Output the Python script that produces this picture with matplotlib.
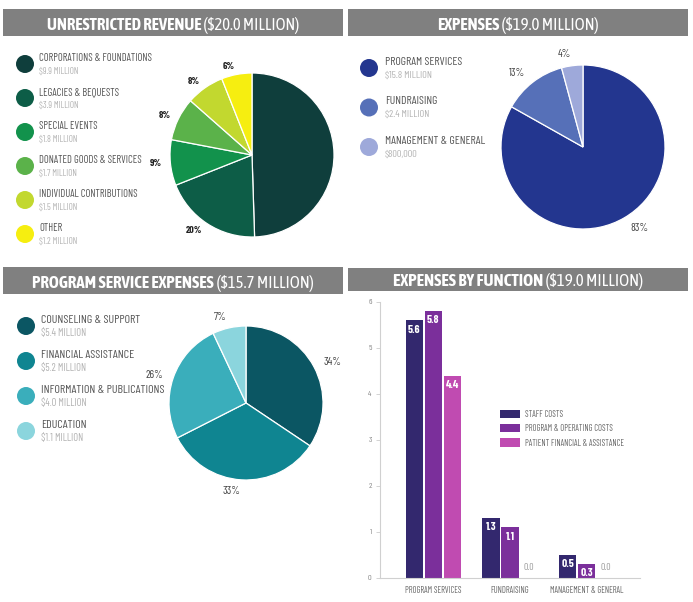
import matplotlib
matplotlib.use("Agg")
import matplotlib.pyplot as plt
import numpy as np
from matplotlib import font_manager
from matplotlib.patches import Rectangle, Circle

# ---------------- data ----------------
rev_labels = ["CORPORATIONS & FOUNDATIONS", "LEGACIES & BEQUESTS", "SPECIAL EVENTS",
              "DONATED GOODS & SERVICES", "INDIVIDUAL CONTRIBUTIONS", "OTHER"]
rev_subs = ["$9.9 MILLION", "$3.9 MILLION", "$1.8 MILLION", "$1.7 MILLION",
            "$1.5 MILLION", "$1.2 MILLION"]
rev_values = [9.9, 3.9, 1.8, 1.7, 1.5, 1.2]
rev_pct = ["", "20%", "9%", "8%", "8%", "6%"]
rev_colors = ["#0f3e3c", "#0d5d47", "#12924c", "#5bb24a", "#c2d82f", "#f6ee10"]

exp_labels = ["PROGRAM SERVICES", "FUNDRAISING", "MANAGEMENT & GENERAL"]
exp_subs = ["$15.8 MILLION", "$2.4 MILLION", "$800,000"]
exp_values = [15.8, 2.4, 0.8]
exp_pct = ["83%", "13%", "4%"]
exp_colors = ["#23368f", "#5670b8", "#9ea9da"]

prog_labels = ["COUNSELING & SUPPORT", "FINANCIAL ASSISTANCE",
               "INFORMATION & PUBLICATIONS", "EDUCATION"]
prog_subs = ["$5.4 MILLION", "$5.2 MILLION", "$4.0 MILLION", "$1.1 MILLION"]
prog_values = [5.4, 5.2, 4.0, 1.1]
prog_pct = ["34%", "33%", "26%", "7%"]
prog_colors = ["#0b5663", "#0f8591", "#3aaebb", "#8bd5dd"]

func_categories = ["PROGRAM SERVICES", "FUNDRAISING", "MANAGEMENT & GENERAL"]
func_series = ["STAFF COSTS", "PROGRAM & OPERATING COSTS", "PATIENT FINANCIAL & ASSISTANCE"]
staff_costs = [5.6, 1.3, 0.5]
program_operating = [5.8, 1.1, 0.3]
patient_financial = [4.4, 0.0, 0.0]
func_colors = ["#33286e", "#7b2f9b", "#c04bb1"]
func_yticks = [0, 1, 2, 3, 4, 5, 6]

# ---------------- fonts ----------------
avail = {f.name for f in font_manager.fontManager.ttflist}


def pick(cands):
    for c in cands:
        if c in avail:
            return c
    return "DejaVu Sans"


BODY = pick(["Barlow Condensed", "PT Sans Narrow", "Roboto Condensed"])
HEAD = pick(["Asap Condensed", "PT Sans Narrow", "Roboto Condensed"])
plt.rcParams["font.family"] = [BODY, "DejaVu Sans"]

W, H = 693, 602
DPI = 100
fig = plt.figure(figsize=(W / DPI, H / DPI), dpi=DPI)
fig.patch.set_facecolor("white")

ov = fig.add_axes([0, 0, 1, 1])
ov.set_xlim(0, W)
ov.set_ylim(H, 0)
ov.axis("off")
ov.set_zorder(0)

HEADER = "#808080"
renderer = fig.canvas.get_renderer()


def fit_size(text, target_w, weight="normal", base=10.0):
    t = ov.text(0, 0, text, fontsize=base, fontweight=weight)
    w = t.get_window_extent(renderer).width
    t.remove()
    return base * target_w / w


def header(x0, x1, y0, y1, bold, rest, target_w):
    ov.add_patch(Rectangle((x0, y0), x1 - x0, y1 - y0, color=HEADER, lw=0))
    cy = (y0 + y1) / 2 + 0.5
    fs = 12.5
    kw = dict(color="white", va="center_baseline", ha="left", family=[HEAD, "DejaVu Sans"])
    t1 = ov.text(0, cy, bold, fontsize=fs, fontweight="bold", **kw)
    t2 = ov.text(0, cy, rest, fontsize=fs, **kw)
    w1 = t1.get_window_extent(renderer).width
    w2 = t2.get_window_extent(renderer).width
    scale = min(1.0, target_w / (w1 + w2))
    if scale < 1.0:
        fs = fs * scale
        t1.set_fontsize(fs)
        t2.set_fontsize(fs)
        w1 = t1.get_window_extent(renderer).width
        w2 = t2.get_window_extent(renderer).width
    start = (x0 + x1) / 2 - (w1 + w2) / 2
    t1.set_x(start)
    t2.set_x(start + w1)


header(3, 343, 9, 36, "UNRESTRICTED REVENUE", " ($20.0 MILLION)", 252)
header(348, 688, 9, 36, "EXPENSES", " ($19.0 MILLION)", 162)
header(3, 343, 267, 294, "PROGRAM SERVICE EXPENSES", " ($15.7 MILLION)", 282)
header(348, 688, 268, 291, "EXPENSES BY FUNCTION", " ($19.0 MILLION)", 250)


def legend_block(cx, tx, y0, step, labels, subs, colors, ref_idx, lab_w, rad=9):
    fs_lab = min(9.5, fit_size(labels[ref_idx], lab_w))
    fs_sub = 0.88 * fs_lab
    for i, (lab, sub, col) in enumerate(zip(labels, subs, colors)):
        y = y0 + i * step
        ov.add_patch(Circle((cx, y + 6), rad, color=col, lw=0))
        ov.text(tx, y, lab, color="#555555", fontsize=fs_lab, va="center", ha="left")
        ov.text(tx, y + 13, sub, color="#b3b3b3", fontsize=fs_sub, va="center", ha="left")


legend_block(25, 39, 58, 34, rev_labels, rev_subs, rev_colors, 0, 113)
legend_block(369, 385, 62, 39.5, exp_labels, exp_subs, exp_colors, 2, 100)
legend_block(26, 41, 320, 35, prog_labels, prog_subs, prog_colors, 2, 124)


def pie_axes(cx, cy, r):
    half = 1.25 * r
    return fig.add_axes([(cx - half) / W, 1 - (cy + half) / H, 2 * half / W, 2 * half / H])


def draw_pie(ax, values, colors, pct, bold, dist):
    ax.pie(values, colors=colors, startangle=90, counterclock=False, labels=pct,
           labeldistance=dist,
           wedgeprops=dict(edgecolor="white", linewidth=0.9),
           textprops=dict(fontsize=7.2 if bold else 8.0,
                          color="#222222" if bold else "#444444",
                          fontweight="bold" if bold else "normal"))
    ax.set_xlim(-1.25, 1.25)
    ax.set_ylim(-1.25, 1.25)
    ax.set_aspect("equal")
    ax.axis("off")


ax1 = pie_axes(252, 155, 82)
draw_pie(ax1, rev_values, rev_colors, rev_pct, True, 1.1)
ax2 = pie_axes(583, 147, 82)
draw_pie(ax2, exp_values, exp_colors, exp_pct, False, 1.15)
ax3 = pie_axes(246, 403, 77)
draw_pie(ax3, prog_values, prog_colors, prog_pct, False, 1.14)

# ---------------- bar chart ----------------
bx0, bx1, by0, by1 = 380, 640, 302, 578
axb = fig.add_axes([bx0 / W, 1 - by1 / H, (bx1 - bx0) / W, (by1 - by0) / H])
x = np.arange(len(func_categories))
off = 0.247
wid = 0.222
series = [staff_costs, program_operating, patient_financial]
for k, (vals, col, name) in enumerate(zip(series, func_colors, func_series)):
    bars = axb.bar(x + (k - 1) * off, vals, width=wid, color=col, label=name, zorder=2)
    for b, v in zip(bars, vals):
        xc = b.get_x() + b.get_width() / 2
        if v > 0:
            axb.annotate(f"{v:.1f}", (xc, v), xytext=(0, -3), textcoords="offset points",
                         ha="center", va="top", color="white", fontsize=8.2,
                         fontweight="bold")
        else:
            axb.annotate(f"{v:.1f}", (xc, 0), xytext=(0, 4), textcoords="offset points",
                         ha="center", va="bottom", color="#999999", fontsize=7)

axb.set_xlim(-0.69, 2.69)
axb.set_ylim(0, 6)
axb.set_yticks(func_yticks)
axb.set_yticklabels([str(t) for t in func_yticks])
axb.set_xticks(x)
axb.set_xticklabels(func_categories)
axb.tick_params(axis="y", length=3, width=0.6, color="#cccccc", labelsize=6,
                labelcolor="#888888", pad=3)
axb.tick_params(axis="x", length=0, labelsize=6.2, labelcolor="#666666", pad=6)
for s in ["top", "right"]:
    axb.spines[s].set_visible(False)
for s in ["left", "bottom"]:
    axb.spines[s].set_color("#d0d0d0")
    axb.spines[s].set_linewidth(0.8)
axb.set_facecolor("none")

leg = axb.legend(loc="upper left", bbox_to_anchor=(500 / W, 1 - 410 / H),
                 bbox_transform=fig.transFigure, frameon=False, fontsize=6.2,
                 handlelength=2.3, handleheight=1.1, handletextpad=0.6,
                 labelspacing=0.6, borderaxespad=0, borderpad=0)
for t in leg.get_texts():
    t.set_color("#666666")

fig.savefig("out.png", dpi=DPI, facecolor="white")
